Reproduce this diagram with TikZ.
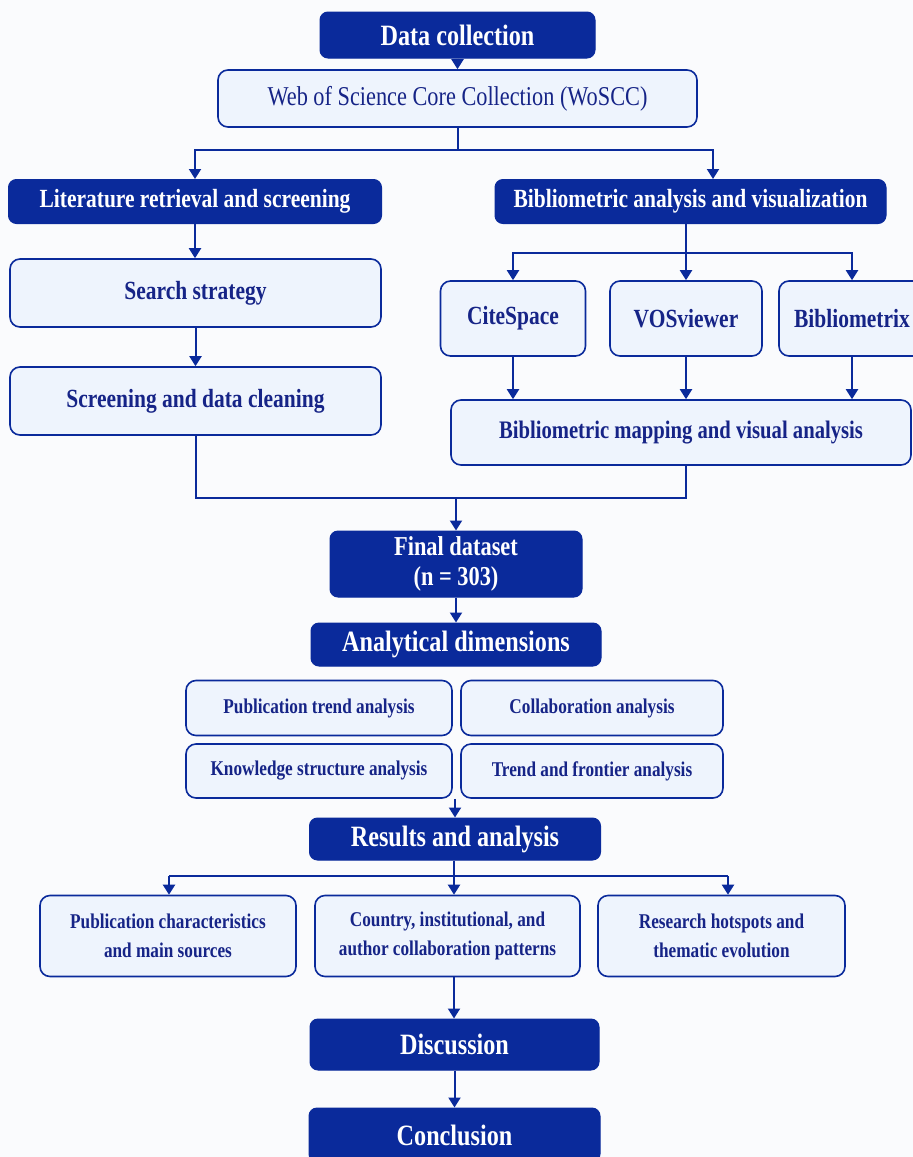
\documentclass[tikz,border=0pt]{standalone}
\usepackage{fontspec}
\setmainfont{Liberation Serif}[FakeStretch=0.82]
\usetikzlibrary{arrows.meta}
\definecolor{dk}{RGB}{10,42,155}
\definecolor{lt}{RGB}{238,244,253}
\definecolor{dktext}{RGB}{22,36,135}
\definecolor{bg}{RGB}{250,251,253}
\newcommand\FsBig{\fontsize{29.5}{32}\selectfont\bfseries}
\newcommand\FsMid{\fontsize{26.2}{30}\selectfont\bfseries}
\newcommand\FsReg{\fontsize{27.2}{30}\selectfont}
\newcommand\FsSmall{\fontsize{21}{29}\selectfont\bfseries}
\begin{document}
\begin{tikzpicture}[x=1pt,y=-1pt,
  darkbox/.style={fill=dk, draw=dk, line width=1pt, rounded corners=8pt, text=white, align=center, inner sep=0pt},
  lightbox/.style={fill=lt, draw=dk, line width=1.6pt, rounded corners=10pt, text=dktext, align=center, inner sep=0pt},
  conn/.style={draw=dk, line width=2pt},
  arr/.style={conn, -{Triangle[width=12pt,length=10pt]}}
]
\fill[bg] (0,0) rectangle (913,1157);
\useasboundingbox (0,0) rectangle (913,1157);

% nodes
\node[darkbox, minimum width=275, minimum height=46, font=\FsBig] (dc) at (457.5,35) {Data collection};
\node[lightbox, minimum width=479, minimum height=57, font=\FsReg] (wos) at (457.5,98.5) {Web of Science Core Collection (WoSCC)};
\node[darkbox, minimum width=373, minimum height=44, font=\FsMid] (lit) at (195,201.5) {Literature retrieval and screening};
\node[darkbox, minimum width=391, minimum height=44, font=\FsMid] (bib) at (690.5,201.5) {Bibliometric analysis and visualization};
\node[lightbox, minimum width=371, minimum height=68, font=\FsMid] (search) at (195.5,293) {Search strategy};
\node[lightbox, minimum width=371, minimum height=68, font=\FsMid] (screen) at (195.5,401) {Screening and data cleaning};
\node[lightbox, minimum width=145, minimum height=75, font=\FsMid] (cite) at (513,318.5) {CiteSpace};
\node[lightbox, minimum width=152, minimum height=75, font=\FsMid] (vos) at (686,318.5) {VOSviewer};
\node[lightbox, minimum width=146, minimum height=75, font=\FsMid] (bibx) at (852,318.5) {Bibliometrix};
\node[lightbox, minimum width=460, minimum height=65, font=\fontsize{25.2}{30}\selectfont\bfseries] (map) at (681,432.5) {Bibliometric mapping and visual analysis};
\node[darkbox, minimum width=252, minimum height=66, font=\fontsize{27.3}{30}\selectfont\bfseries] (final) at (456,564) {Final dataset\\(n = 303)};
\node[darkbox, minimum width=290, minimum height=43, font=\FsBig] (anal) at (456,644.5) {Analytical dimensions};
\node[lightbox, minimum width=266, minimum height=55, font=\FsSmall] (pt) at (319,708) {Publication trend analysis};
\node[lightbox, minimum width=262, minimum height=55, font=\FsSmall] (col) at (592,708) {Collaboration analysis};
\node[lightbox, minimum width=266, minimum height=54, font=\FsSmall] (kn) at (319,771) {Knowledge structure analysis};
\node[lightbox, minimum width=262, minimum height=54, font=\FsSmall] (tf) at (592,771) {Trend and frontier analysis};
\node[darkbox, minimum width=291, minimum height=42, font=\FsBig] (res) at (455,839) {Results and analysis};
\node[lightbox, minimum width=256, minimum height=81, font=\FsSmall] (pc) at (168,936) {Publication characteristics\\and main sources};
\node[lightbox, minimum width=265, minimum height=81, font=\FsSmall] (co) at (447.5,936) {Country, institutional, and\\author collaboration patterns};
\node[lightbox, minimum width=247, minimum height=81, font=\FsSmall] (rh) at (721.5,936) {Research hotspots and\\thematic evolution};
\node[darkbox, minimum width=289, minimum height=51, font=\FsBig] (disc) at (454.5,1044.5) {Discussion};
\node[darkbox, minimum width=291, minimum height=54, font=\FsBig] (concl) at (454.5,1135) {Conclusion};

% connectors
\draw[arr] (dc.south) -- (dc.south |- wos.north);
\coordinate (f1) at (458,150);
\draw[conn] (wos.south -| f1) -- (f1);
\draw[arr] (f1) -| (lit.north);
\draw[arr] (f1) -| ([xshift=22.5pt]bib.north);
\draw[arr] (lit.south) -- (lit.south |- search.north);
\draw[arr] (search.south) -- (search.south |- screen.north);

\coordinate (f2) at (686,253);
\draw[conn] (bib.south -| f2) -- (f2);
\draw[arr] (f2) -| (cite.north);
\draw[arr] (f2) -- (vos.north);
\draw[arr] (f2) -| (bibx.north);
\draw[arr] (cite.south) -- (cite.south |- map.north);
\draw[arr] (vos.south) -- (vos.south |- map.north);
\draw[arr] (bibx.south) -- (bibx.south |- map.north);

\coordinate (m) at (456,498);
\draw[conn] (screen.south) |- (m);
\draw[conn] (map.south -| vos.south) |- (m);
\draw[arr] (m) -- (final.north);
\draw[arr] (final.south) -- (anal.north);

\draw[arr] (res.north |- kn.south) -- (res.north);

\coordinate (f3) at (454,876);
\coordinate (r1) at (169,876);
\coordinate (r3) at (728,876);
\draw[conn] (res.south -| f3) -- (f3);
\draw[conn] (r1) -- (r3);
\draw[arr] (r1) -- (r1 |- pc.north);
\draw[arr] (f3) -- (f3 |- co.north);
\draw[arr] (r3) -- (r3 |- rh.north);
\draw[arr] (co.south -| f3) -- (f3 |- disc.north);
\draw[arr] (disc.south) -- (concl.north);
\end{tikzpicture}
\end{document}
